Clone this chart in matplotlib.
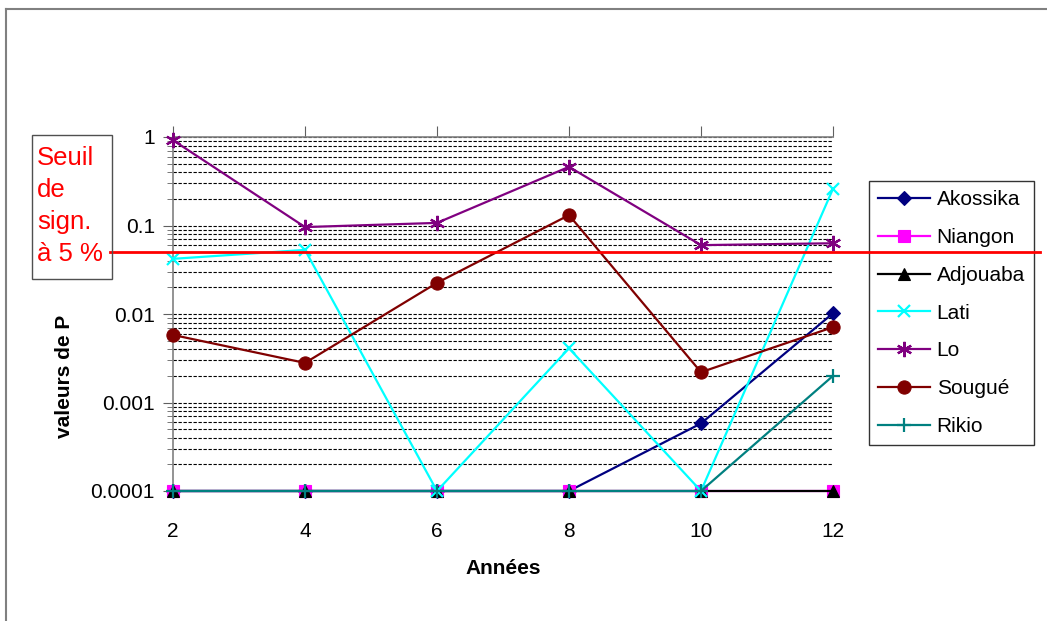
import matplotlib
matplotlib.use('Agg')
import matplotlib.pyplot as plt
from matplotlib.lines import Line2D
from matplotlib.patches import Rectangle
from matplotlib.ticker import LogLocator, FixedFormatter, FixedLocator

plt.rcParams['font.family'] = ['Liberation Sans', 'DejaVu Sans']

annees = [2, 4, 6, 8, 10, 12]
akossika = [0.0001, 0.0001, 0.0001, 0.0001, 0.00058, 0.0102]
niangon = [0.0001, 0.0001, 0.0001, 0.0001, 0.0001, 0.0001]
adjouaba = [0.0001, 0.0001, 0.0001, 0.0001, 0.0001, 0.0001]
lati = [0.042, 0.053, 0.0001, 0.0041, 0.0001, 0.26]
lo = [0.92, 0.096, 0.107, 0.46, 0.06, 0.063]
sougue = [0.0058, 0.0028, 0.0225, 0.131, 0.0022, 0.0071]
rikio = [0.0001, 0.0001, 0.0001, 0.0001, 0.0001, 0.002]
seuil = 0.05

y_ticks = [0.0001, 0.001, 0.01, 0.1, 1]
y_labels = ['0.0001', '0.001', '0.01', '0.1', '1']

series = [
    ('Akossika', akossika, '#000080', 'D', 7.5),
    ('Niangon', niangon, '#FF00FF', 's', 8.5),
    ('Adjouaba', adjouaba, '#000000', '^', 8),
    ('Lati', lati, '#00FFFF', 'x', 9),
    ('Lo', lo, '#800080', (6, 2, 0), 11),
    ('Sougué', sougue, '#800000', 'o', 9.5),
    ('Rikio', rikio, '#008080', '+', 10),
]

W, H = 1047, 621
fig = plt.figure(figsize=(W / 100, H / 100), dpi=100)
ax = fig.add_axes([173 / W, 1 - 491 / H, 660 / W, 354 / H])

for name, vals, col, mk, ms in series:
    ax.plot(annees, vals, color=col, marker=mk, markersize=ms, lw=1.6,
            markeredgewidth=1.6 if mk in ('x', '+', (6, 2, 0)) else 0.8,
            markeredgecolor=col, label=name, clip_on=False, zorder=3)

ax.set_yscale('log')
ax.set_ylim(0.0001, 1)
ax.set_xlim(2, 12)
ax.yaxis.set_major_locator(FixedLocator(y_ticks))
ax.yaxis.set_major_formatter(FixedFormatter(y_labels))
ax.yaxis.set_minor_locator(LogLocator(base=10, subs=range(2, 10)))
ax.yaxis.set_minor_formatter(FixedFormatter([]))
ax.set_xticks(annees)
ax.set_xticklabels([str(a) for a in annees])

ax.grid(True, which='both', axis='y', color='black', linestyle=(0, (3, 1.5)), lw=0.8)
ax.set_axisbelow(True)

for s in ('right', 'bottom'):
    ax.spines[s].set_visible(False)
for s in ('left', 'top'):
    ax.spines[s].set_color('#808080')
    ax.spines[s].set_linewidth(1.2)

ax.tick_params(axis='x', bottom=False, top=True, labelbottom=True, labeltop=False,
               direction='out', length=8, color='#606060', labelsize=15, pad=14)
ax.tick_params(axis='y', which='major', direction='out', length=7, color='#606060',
               labelsize=15, pad=6)
ax.tick_params(axis='y', which='minor', direction='out', length=4, color='#606060')

# seuil de signification
ax.plot([-0.095, 1.314], [seuil, seuil], color='red', lw=2,
        transform=ax.get_yaxis_transform(), clip_on=False, zorder=10)

leg = ax.legend(loc='upper left', bbox_to_anchor=(869 / W, 1 - 181 / H),
                bbox_transform=fig.transFigure, fontsize=15, frameon=True,
                fancybox=False, edgecolor='black', handlelength=2.5,
                handletextpad=0.3, labelspacing=0.9, borderpad=0.45,
                borderaxespad=0)
leg.get_frame().set_linewidth(1)
leg.set_zorder(5)

fig.text(503 / W, 1 - 568 / H, 'Années', ha='center', va='center',
         fontsize=15, fontweight='bold')
fig.text(64 / W, 1 - 376 / H, 'valeurs de P', ha='center', va='center',
         rotation=90, fontsize=15, fontweight='bold')

fig.patches.append(Rectangle((32 / W, 1 - 279 / H), 80 / W, 144 / H,
                             transform=fig.transFigure, fill=False,
                             edgecolor='#505050', lw=1))
fig.text(37 / W, 1 - 206 / H, 'Seuil\nde\nsign.\nà 5 %', ha='left', va='center',
         color='red', fontsize=18.5, linespacing=1.42)

# cadre
fig.lines.append(Line2D([6 / W, 1], [1 - 9 / H, 1 - 9 / H], transform=fig.transFigure,
                        color='#808080', lw=1.5))
fig.lines.append(Line2D([6 / W, 6 / W], [0, 1 - 9 / H], transform=fig.transFigure,
                        color='#808080', lw=1.5))

fig.savefig('out.png', dpi=100)
